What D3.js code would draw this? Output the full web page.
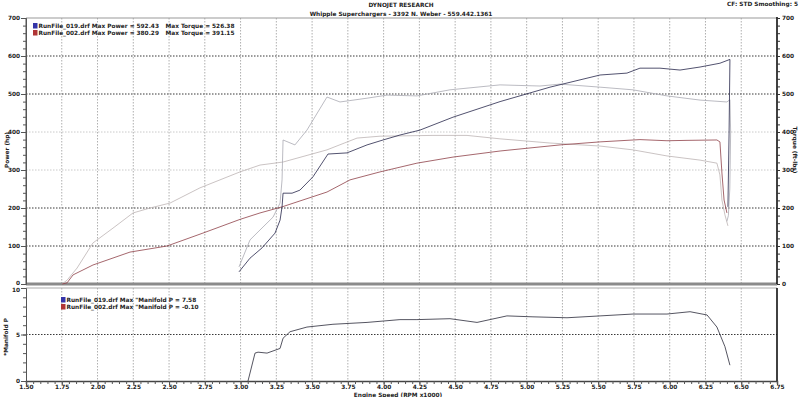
<!DOCTYPE html>
<html>
<head>
<meta charset="utf-8">
<script src="https://cdn.jsdelivr.net/npm/d3@7"></script>
<style>
  body { margin: 0; background: #fff; }
  svg text { font-family: "DejaVu Sans", Verdana, sans-serif; font-weight: bold; fill: #222; }
</style>
</head>
<body>
<script>
// dyno sheet data, rpm in x1000
const rpmTicks = [1.5, 1.75, 2, 2.25, 2.5, 2.75, 3, 3.25, 3.5, 3.75, 4, 4.25, 4.5, 4.75, 5, 5.25, 5.5, 5.75, 6, 6.25, 6.5, 6.75];
const powerTicks = [0, 100, 200, 300, 400, 500, 600, 700];
const manifoldTicks = [0, 5, 10];

const run019Power = [[2.989,32],[3.066,68],[3.150,95],[3.241,134],[3.276,168],[3.290,203],[3.297,239],[3.360,239],[3.415,247],[3.506,282],[3.611,342],[3.744,345],[3.884,366],[3.996,379],[4.114,392],[4.254,405],[4.485,439],[4.814,480],[5.163,518],[5.513,550],[5.701,555],[5.792,568],[5.932,568],[6.072,563],[6.212,571],[6.351,581],[6.421,591],[6.415,400],[6.407,203]];
const run019Torque = [[2.989,45],[3.066,116],[3.122,137],[3.227,176],[3.276,213],[3.290,274],[3.297,379],[3.380,366],[3.464,405],[3.604,492],[3.695,479],[3.884,489],[4.024,497],[4.233,495],[4.464,511],[4.814,524],[5.093,521],[5.233,526],[5.513,518],[5.743,511],[5.981,495],[6.212,484],[6.400,479],[6.421,485],[6.426,400],[6.420,250],[6.410,180],[6.400,165]];
const run002Power = [[1.752,0],[1.787,3],[1.829,24],[1.968,50],[2.227,84],[2.486,100],[2.737,134],[2.996,170],[3.136,187],[3.290,203],[3.604,242],[3.765,274],[3.975,295],[4.233,318],[4.485,334],[4.814,350],[5.233,366],[5.513,374],[5.792,380],[5.981,377],[6.121,378],[6.330,379],[6.351,374],[6.365,292],[6.380,221],[6.400,187]];
const run002Torque = [[1.752,0],[1.787,10],[1.857,42],[1.968,108],[2.108,147],[2.248,187],[2.367,200],[2.507,213],[2.716,253],[2.996,295],[3.136,313],[3.297,321],[3.604,353],[3.814,384],[3.975,389],[4.345,391],[4.583,391],[4.814,382],[5.163,371],[5.513,363],[5.743,353],[5.981,337],[6.212,326],[6.330,318],[6.351,287],[6.365,221],[6.386,182],[6.407,153]];
const run019Manifold = [[3.052,0],[3.101,3.0],[3.122,3.1],[3.185,3.0],[3.276,3.5],[3.297,4.6],[3.346,5.3],[3.464,5.8],[3.646,6.1],[3.884,6.3],[4.114,6.6],[4.233,6.6],[4.464,6.7],[4.653,6.3],[4.862,7.0],[5.044,6.9],[5.282,6.8],[5.513,7.0],[5.743,7.2],[5.981,7.2],[6.142,7.45],[6.261,7.1],[6.330,5.8],[6.386,3.7],[6.421,1.7]];

const W = 800, H = 397;
const L = 26, R = 777;
const FS = "5.8px";

const svg = d3.select("body").append("svg")
    .attr("width", W).attr("height", H);

const x = d3.scaleLinear().domain([1.5, 6.75]).range([L, R]);
const yTop = d3.scaleLinear().domain([0, 700]).range([284, 18]);
const yBot = d3.scaleLinear().domain([0, 10]).range([381, 288]);

// titles
svg.append("text").attr("x", 401).attr("y", 7).attr("text-anchor", "middle")
    .style("font-size", FS).text("DYNOJET RESEARCH");
svg.append("text").attr("x", 401).attr("y", 15.5).attr("text-anchor", "middle")
    .style("font-size", FS).text("Whipple Superchargers - 3392 N. Weber - 559.442.1361");
svg.append("text").attr("x", 798).attr("y", 6).attr("text-anchor", "end")
    .style("font-size", FS).text("CF: STD  Smoothing: 5");

// vertical grid, both panels
const vGrid = rpmTicks.filter(d => d > 1.5 && d < 6.75);
[[yTop(700), yTop(0)], [yBot(10), yBot(0)]].forEach(([y0, y1]) => {
    svg.append("g").selectAll("line").data(vGrid).enter().append("line")
        .attr("x1", d => x(d)).attr("x2", d => x(d))
        .attr("y1", y0).attr("y2", y1)
        .attr("stroke", "#9a9a9a").attr("stroke-width", 0.8)
        .attr("stroke-dasharray", "1.5,1.5");
});

// horizontal grid top
svg.append("g").selectAll("line").data([100, 200, 300, 400, 500, 600]).enter().append("line")
    .attr("x1", L).attr("x2", R)
    .attr("y1", d => yTop(d)).attr("y2", d => yTop(d))
    .attr("stroke", d => (d == 300 || d == 400) ? "#c4c4c4" : "#222")
    .attr("stroke-width", 0.9)
    .attr("stroke-dasharray", "1.5,1.5");
svg.append("line").attr("x1", L).attr("x2", R)
    .attr("y1", yBot(5)).attr("y2", yBot(5))
    .attr("stroke", "#222").attr("stroke-width", 0.9).attr("stroke-dasharray", "1.5,1.5");

// frames
svg.append("line").attr("x1", L).attr("x2", R).attr("y1", yTop(700)).attr("y2", yTop(700))
    .attr("stroke", "#999").attr("stroke-width", 1);
svg.append("line").attr("x1", L).attr("x2", R).attr("y1", yTop(0)).attr("y2", yTop(0))
    .attr("stroke", "#8a8a8a").attr("stroke-width", 3);
svg.append("line").attr("x1", L).attr("x2", R).attr("y1", yBot(10)).attr("y2", yBot(10))
    .attr("stroke", "#aaa").attr("stroke-width", 1);
svg.append("line").attr("x1", R).attr("x2", R).attr("y1", yTop(700) - 1).attr("y2", yTop(0))
    .attr("stroke", "#111").attr("stroke-width", 1.6);
svg.append("line").attr("x1", R).attr("x2", R).attr("y1", yBot(10)).attr("y2", yBot(0))
    .attr("stroke", "#111").attr("stroke-width", 1.6);
svg.append("line").attr("x1", L).attr("x2", L).attr("y1", yTop(700)).attr("y2", yTop(0))
    .attr("stroke", "#555").attr("stroke-width", 1);

// axes
const tickFont = g => g.selectAll("text").style("font-size", FS).attr("fill", "#222");
const axisLook = g => { g.select(".domain").attr("stroke", "#555"); g.selectAll("line").attr("stroke", "#555"); };

svg.append("g").attr("transform", `translate(${L},0)`)
    .call(d3.axisLeft(yTop).tickValues(d3.range(0, 701, 20)).tickSize(3).tickFormat(""))
    .call(axisLook);
svg.append("g").attr("transform", `translate(${L},0)`)
    .call(d3.axisLeft(yTop).tickValues(powerTicks).tickSize(5).tickPadding(1))
    .call(axisLook).call(tickFont)
    .call(g => g.select(".domain").remove())
    .call(g => g.selectAll("text").filter(d => d === 0).attr("dy", "0.1em"));

svg.append("g").attr("transform", `translate(${R},0)`)
    .call(d3.axisRight(yTop).tickValues(d3.range(0, 701, 20)).tickSize(3).tickFormat(""))
    .call(g => g.selectAll("line").attr("stroke", "#333"))
    .call(g => g.select(".domain").remove());
svg.append("g").attr("transform", `translate(${R},0)`)
    .call(d3.axisRight(yTop).tickValues(powerTicks).tickSize(0).tickPadding(5))
    .call(tickFont)
    .call(g => g.select(".domain").remove());

svg.append("g").attr("transform", `translate(${L},0)`)
    .call(d3.axisLeft(yBot).tickValues(d3.range(0, 11, 1)).tickSize(3).tickFormat(""))
    .call(axisLook);
svg.append("g").attr("transform", `translate(${L},0)`)
    .call(d3.axisLeft(yBot).tickValues(manifoldTicks).tickSize(5).tickPadding(1))
    .call(axisLook).call(tickFont)
    .call(g => g.select(".domain").remove())
    .call(g => g.selectAll("text").filter(d => d === 10).attr("dy", "0.55em"));

svg.append("g").attr("transform", `translate(0,${yBot(0)})`)
    .call(d3.axisBottom(x).tickValues(d3.range(1.5, 6.76, 0.05)).tickSize(3).tickFormat(""))
    .call(axisLook)
    .call(g => g.select(".domain").attr("stroke", "#444").attr("stroke-width", 1.5));
svg.append("g").attr("transform", `translate(0,${yBot(0)})`)
    .call(d3.axisBottom(x).tickValues(rpmTicks).tickSize(4).tickPadding(0).tickFormat(d3.format(".2f")))
    .call(axisLook).call(tickFont)
    .call(g => g.select(".domain").remove());

// axis titles
svg.append("text").attr("transform", "translate(9,150) rotate(-90)")
    .attr("text-anchor", "middle").style("font-size", FS).text("Power (hp)");
svg.append("text").attr("transform", "translate(793,150) rotate(90)")
    .attr("text-anchor", "middle").style("font-size", FS).text("Torque (ft-lbs)");
svg.append("text").attr("transform", "translate(8,337) rotate(-90)")
    .attr("text-anchor", "middle").style("font-size", FS).text("*Manifold P");
svg.append("text").attr("x", 398).attr("y", 396.5).attr("text-anchor", "middle")
    .style("font-size", FS).text("Engine Speed (RPM x1000)");

// curves
const lineTop = d3.line().x(d => x(d[0])).y(d => yTop(d[1]));
const lineBot = d3.line().x(d => x(d[0])).y(d => yBot(d[1]));
const series = [
    { data: run002Torque, color: "#bdb4b4" },
    { data: run019Torque, color: "#aaaab2" },
    { data: run002Power, color: "#8e4048" },
    { data: run019Power, color: "#26264a" }
];
svg.append("g").selectAll("path").data(series).enter().append("path")
    .attr("d", d => lineTop(d.data))
    .attr("fill", "none").attr("stroke", d => d.color).attr("stroke-width", 0.8);
svg.append("path").attr("d", lineBot(run019Manifold))
    .attr("fill", "none").attr("stroke", "#2a2a38").attr("stroke-width", 0.8);

// legends
function legend(x0, y0, rows, gap) {
    const g = svg.append("g");
    rows.forEach((r, i) => {
        g.append("rect").attr("x", x0).attr("y", y0 + i * 7 - 5).attr("width", 4.5).attr("height", 5.5)
            .attr("fill", r.color);
        r.texts.forEach((s, j) => {
            g.append("text").attr("x", x0 + 5.5 + j * gap).attr("y", y0 + i * 7)
                .style("font-size", FS).text(s);
        });
    });
}
legend(33, 28, [
    { color: "#3535a8", texts: ["RunFile_019.drf Max Power = 592.43", "Max Torque = 526.38"] },
    { color: "#b03535", texts: ["RunFile_002.drf Max Power = 380.29", "Max Torque = 391.15"] }
], 127);
legend(61, 302, [
    { color: "#3535a8", texts: ["RunFile_019.drf Max \"Manifold P = 7.58"] },
    { color: "#b03535", texts: ["RunFile_002.drf Max \"Manifold P = -0.10"] }
], 0);
</script>
</body>
</html>
